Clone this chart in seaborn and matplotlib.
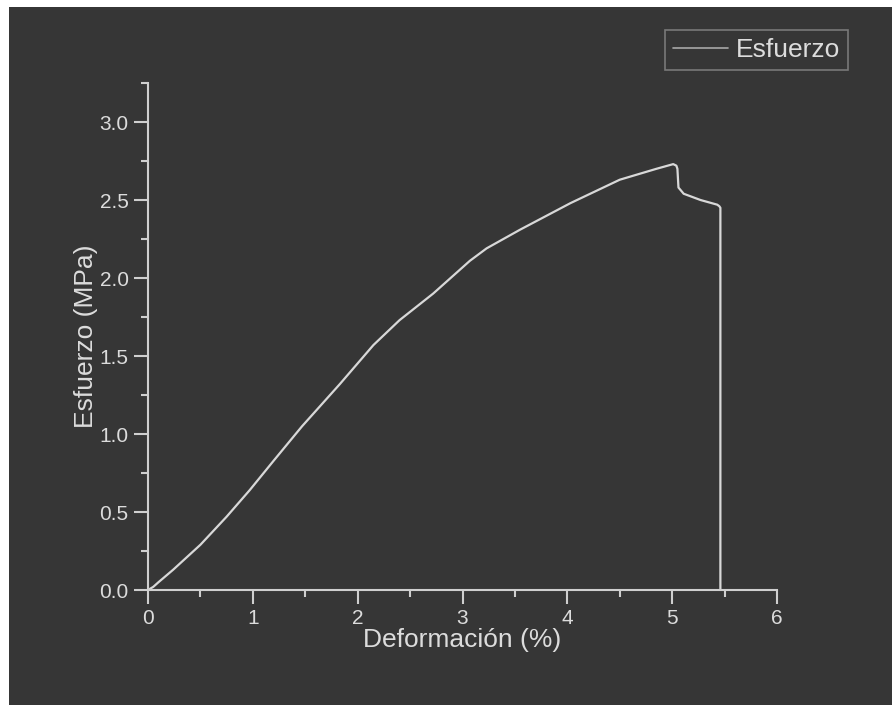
import matplotlib
matplotlib.use("Agg")
import matplotlib.pyplot as plt
from matplotlib.patches import Rectangle
from matplotlib.ticker import MultipleLocator
import seaborn as sns
import pandas as pd

# Stress-strain curve of the tensile test
deformacion = [0.00, 0.05, 0.10, 0.24, 0.50, 0.75, 0.97, 1.20, 1.47, 1.83,
               2.15, 2.40, 2.72, 3.07, 3.23, 3.55, 4.03, 4.50, 4.85, 5.01,
               5.04, 5.05, 5.06, 5.11, 5.27, 5.43, 5.45, 5.46, 5.46]
esfuerzo = [0.00, 0.02, 0.05, 0.13, 0.29, 0.47, 0.64, 0.83, 1.05, 1.32,
            1.57, 1.73, 1.90, 2.11, 2.19, 2.31, 2.48, 2.63, 2.70, 2.73,
            2.72, 2.70, 2.58, 2.54, 2.50, 2.47, 2.46, 2.45, 0.00]

x_ticks = [0, 1, 2, 3, 4, 5, 6]
y_ticks = [0.0, 0.5, 1.0, 1.5, 2.0, 2.5, 3.0]
serie = "Esfuerzo"

df = pd.DataFrame({"Deformación": deformacion, "Esfuerzo": esfuerzo})

bg = "#363636"
fg = "#dcdcdc"
axis_col = "#cfcfcf"

sns.set_theme(style="ticks")
plt.rcParams["font.family"] = ["Liberation Sans", "DejaVu Sans"]

fig = plt.figure(figsize=(8.92, 7.05), dpi=100, facecolor="white")
fig.patches.append(Rectangle((9 / 892, 0), 1 - 9 / 892, 1 - 7 / 705,
                             transform=fig.transFigure, facecolor=bg,
                             edgecolor="none", zorder=-10))

ax = fig.add_axes([148 / 892, 1 - 590 / 705, (777 - 148) / 892, (590 - 83) / 705])
ax.set_facecolor(bg)

sns.lineplot(data=df, x="Deformación", y="Esfuerzo", ax=ax, sort=False,
             estimator=None, color="#d8d8d8", linewidth=1.6, label=serie)

ax.set_xlim(0, 6)
ax.set_ylim(0, 3.25)
ax.set_xticks(x_ticks)
ax.set_xticklabels([str(v) for v in x_ticks])
ax.set_yticks(y_ticks)
ax.set_yticklabels([f"{v:.1f}" for v in y_ticks])
ax.xaxis.set_minor_locator(MultipleLocator(0.5))
ax.yaxis.set_minor_locator(MultipleLocator(0.25))

for side in ("top", "right"):
    ax.spines[side].set_visible(False)
for side in ("left", "bottom"):
    ax.spines[side].set_color(axis_col)
    ax.spines[side].set_linewidth(1.5)

ax.tick_params(which="major", direction="out", length=10, width=1.5,
               color=axis_col, labelcolor=fg, labelsize=15, pad=4)
ax.tick_params(which="minor", direction="out", length=5, width=1.5,
               color=axis_col)

ax.set_xlabel("Deformación (%)", color=fg, fontsize=19, labelpad=0)
ax.set_ylabel("Esfuerzo (MPa)", color=fg, fontsize=19, labelpad=1)

leg = ax.legend(loc="upper right", bbox_to_anchor=(848 / 892, 1 - 30 / 705),
                bbox_transform=fig.transFigure, fontsize=19, frameon=True,
                fancybox=False, handlelength=2.1, handletextpad=0.3,
                borderpad=0.3, borderaxespad=0)
leg.get_frame().set_facecolor(bg)
leg.get_frame().set_edgecolor("#8a8a8a")
leg.get_frame().set_linewidth(1.2)
for t in leg.get_texts():
    t.set_color(fg)
for h in leg.get_lines():
    h.set_color("#a8a8a8")
    h.set_linewidth(1.2)

fig.savefig("out.png", dpi=100, facecolor=fig.get_facecolor())
